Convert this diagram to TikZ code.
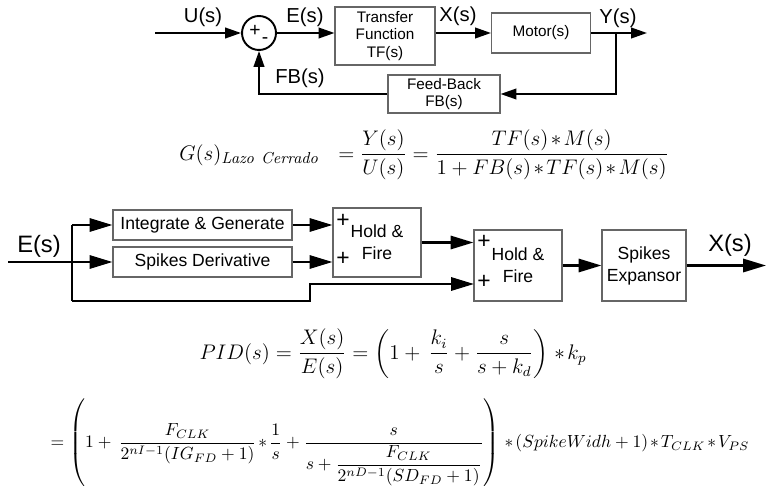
\documentclass[tikz,border=0pt]{standalone}
\usepackage{amsmath, amssymb}
\usepackage[no-math]{fontspec}
\setmainfont{Liberation Sans}
\usepackage{tikz}
\usetikzlibrary{arrows.meta, positioning, calc}

\newcommand{\ax}{\mskip2mu{\ast}\mskip2mu}

\tikzset{
  blk/.style={draw=black!60, line width=0.6pt, align=center, inner sep=1pt},
  tblk/.style={blk, font=\fontsize{8.7}{10}\selectfont},
  mblk/.style={blk, font=\fontsize{10}{12.5}\selectfont},
  twire/.style={line width=1.1pt},
  mwire/.style={line width=1.4pt},
  tsig/.style={twire, -{Triangle[length=9pt,width=6pt]}},
  msig/.style={mwire, -{Triangle[length=13pt,width=7.5pt]}},
  tlbl/.style={font=\fontsize{11.5}{13}\selectfont, inner sep=0pt},
  mlbl/.style={font=\fontsize{13.5}{15}\selectfont, inner sep=0pt},
  pls/.style={font=\fontsize{11}{12}\selectfont, inner sep=0pt},
  mpls/.style={font=\fontsize{13}{14}\selectfont, inner sep=0pt},
  eqn/.style={inner sep=0pt}
}

\begin{document}
\begin{tikzpicture}[x=0.02cm, y=-0.02cm, >=Latex]
\useasboundingbox (0,0) rectangle (767,486);

% lazo cerrado
\coordinate (in) at (155,33);
\node[circle, draw, line width=1.1pt, minimum size=0.68cm, inner sep=0pt] (sum) at (259,33) {};
\node[pls] (plus) at (255,31) {+};
\node[pls] (minus) at (265,41) {-};
\node[tblk, minimum width=2cm, minimum height=1.16cm] (tf) at (385,36) {Transfer\\Function\\TF(s)};
\node[tblk, minimum width=1.98cm, minimum height=0.8cm] (mot) at (541,33) {Motor(s)};
\coordinate (br) at (616,33);
\coordinate (yout) at (647,33);
\node[tblk, minimum width=2.24cm, minimum height=0.76cm] (fb) at (444,94) {Feed-Back\\FB(s)};

\draw[tsig] (in) -- (sum);
\draw[tsig] (sum) -- (tf.west |- sum);
\draw[tsig] (tf.east |- mot) -- (mot);
\draw[tsig] (mot) -- (yout);
\draw[tsig] (br) |- (fb);
\draw[tsig] (fb) -| (sum);

\node[tlbl] (u) at (203,17) {U(s)};
\node[tlbl] (e) at (305,17) {E(s)};
\node[tlbl] (x) at (458,16) {X(s)};
\node[tlbl] (y) at (618,18) {Y(s)};
\node[tlbl] (fbs) at (300,78) {FB(s)};

\node[eqn, font=\fontsize{12.8}{15}\selectfont] (glc) at (424,155) {$G(s)_{\mathit{Lazo\ Cerrado}}\ \ = \dfrac{Y(s)}{U(s)} = \dfrac{TF(s)\ax M(s)}{1+FB(s)\ax TF(s)\ax M(s)}$};

% PID con spikes
\coordinate (ein) at (8,262);
\coordinate (bt) at (72,225);
\coordinate (bm) at (72,262);
\coordinate (bb) at (72,301);
\coordinate (kink) at (310,301);
\node[mlbl] (es) at (39,246) {E(s)};
\node[mblk, minimum width=3.58cm, minimum height=0.6cm] (ig) at (202.5,225) {Integrate \& Generate};
\node[mblk, minimum width=3.58cm, minimum height=0.6cm] (sd) at (202.5,262) {Spikes Derivative};
\node[mblk, minimum width=1.76cm, minimum height=1.38cm] (hf1) at (377,242.5) {Hold \&\\Fire};
\node[mblk, minimum width=1.76cm, minimum height=1.42cm] (hf2) at (518,265.5) {Hold \&\\Fire};
\node[mblk, minimum width=1.68cm, minimum height=1.42cm] (se) at (644,265.5) {Spikes\\Expansor};
\coordinate (hfin) at (474,284);
\coordinate (xout) at (766,265.5);
\node[mlbl] (xs) at (730,245) {X(s)};

\node[mpls] (p1) at (343,221) {+};
\node[mpls] (p2) at (343,259) {+};
\node[mpls] (p3) at (484,242) {+};
\node[mpls] (p4) at (484,282) {+};

\draw[mwire] (ein) -- (bm);
\draw[mwire] (bt) -- (bb);
\draw[msig] (bt) -- (ig);
\draw[msig] (bm) -- (sd);
\draw[msig] (ig) -- (ig -| hf1.west);
\draw[msig] (sd) -- (sd -| hf1.west);
\draw[msig] (hf1) -- (hf1 -| hf2.west);
\draw[msig] (bb) -- (kink) |- (hfin);
\draw[msig] (hf2) -- (se);
\draw[msig] (se) -- (xout);

\node[eqn, font=\fontsize{11.6}{14}\selectfont] (pid) at (393,354) {$PID(s)=\dfrac{X(s)}{E(s)}=\left(1+\,\dfrac{k_i}{s}+\dfrac{s}{s+k_d}\right)\ax k_p$};
\node[eqn, font=\fontsize{10.4}{13}\selectfont] (pidx) at (400,443) {$=\left(1+\,\dfrac{F_{CLK}}{2^{nI-1}(IG_{FD}+1)}\ax\dfrac{1}{s}+\dfrac{s}{s+\dfrac{F_{CLK}}{2^{nD-1}(SD_{FD}+1)}}\right)\ax(SpikeWidh+1)\ax T_{CLK}\ax V_{PS}$};
\end{tikzpicture}
\end{document}
